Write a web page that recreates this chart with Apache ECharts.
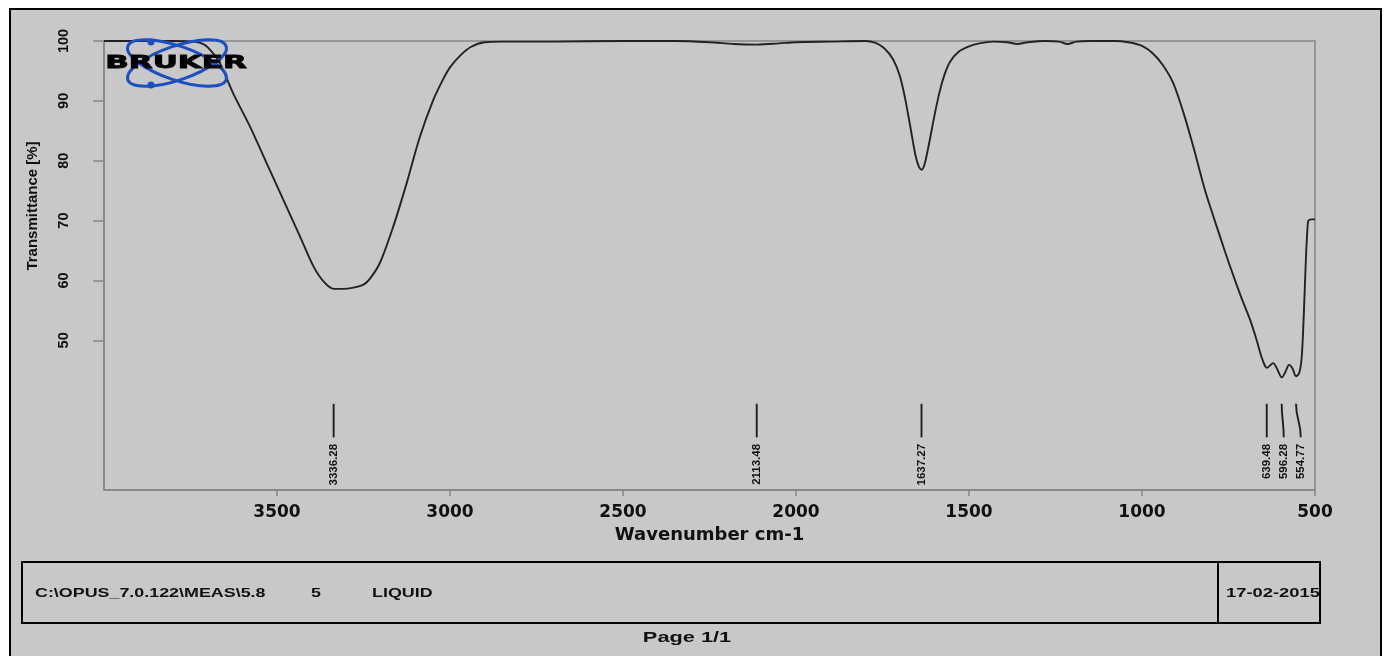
<!DOCTYPE html>
<html>
<head>
<meta charset="utf-8">
<script src="https://cdn.jsdelivr.net/npm/echarts@6/dist/echarts.min.js"></script>
<style>
html,body{margin:0;padding:0;background:#ffffff;width:1390px;height:656px;overflow:hidden}
#frame{position:absolute;left:9px;top:8px;width:1373px;height:670px;background:#c8c8c8;border:2px solid #000;box-sizing:border-box}
#chart{position:absolute;left:0;top:0;width:1390px;height:656px}
</style>
</head>
<body>
<div id="frame"></div>
<div id="chart"></div>
<script>
// ---- data ----
const wavenumbers = [4000,3900,3800,3740,3710,3690,3665,3627,3578,3530,3482,3434,3395,3365,3336,3310,3279,3250,3230,3202,3164,3125,3087,3048,3020,3000,2970,2940,2900,2850,2700,2500,2350,2250,2180,2113,2050,2000,1900,1800,1770,1745,1720,1700,1685,1670,1655,1645,1637,1628,1615,1600,1585,1570,1555,1530,1500,1470,1430,1390,1360,1330,1280,1240,1215,1190,1150,1080,1040,1000,970,940,910,880,850,820,800,784,760,736,712,688,670,655,645,639,630,621,610,596,585,575,565,555,546,539,534,530,526,522,519,510,500];
const transmittance = [100.0,100.0,100.0,99.9,99.4,98.3,96.3,91.3,85.7,79.6,73.5,67.4,62.4,59.8,58.6,58.6,58.8,59.3,60.4,63.0,69.0,76.3,84.0,90.2,93.6,95.6,97.6,99.0,99.8,99.9,99.9,100.0,100.0,99.8,99.5,99.4,99.6,99.8,99.9,100.0,99.7,98.8,97.0,94.2,90.5,85.8,81.0,79.0,78.5,79.5,83.0,87.5,91.5,94.5,96.5,98.2,99.1,99.6,99.9,99.8,99.5,99.8,100.0,99.9,99.5,99.9,100.0,100.0,99.8,99.2,98.0,96.0,93.0,88.0,82.0,75.5,71.8,69.0,64.8,60.8,57.0,53.5,50.3,47.3,45.8,45.4,45.8,46.2,45.3,43.8,44.8,45.9,45.3,44.0,44.5,46.8,52.0,58.0,64.0,68.5,70.0,70.2,70.2];
const peakPositions = [3336.28, 2113.48, 1637.27, 639.48, 596.28, 554.77];
const xTickValues = [3500, 3000, 2500, 2000, 1500, 1000, 500];
const yTickValues = [50, 60, 70, 80, 90, 100];
const xAxisTitle = 'Wavenumber cm-1';
const yAxisTitle = 'Transmittance [%]';
const infoPath = 'C:\\OPUS_7.0.122\\MEAS\\5.8';
const infoNumber = '5';
const infoState = 'LIQUID';
const infoDate = '17-02-2015';
const pageText = 'Page 1/1';
const logoText = 'BRUKER';

// annotation levels (in transmittance units)
const markTopT = 39.4;
const markBottomT = 33.8;
const markLabelT = 32.7;

const chart = echarts.init(document.getElementById('chart'));

function renderPeak(params, api) {
  const i = params.dataIndex;
  const xs = peakPositions.map(p => api.coord([p, markTopT])[0]);
  const lx = xs.slice();
  for (let k = 1; k < lx.length; k++) {
    if (lx[k] < lx[k - 1] + 17) lx[k] = lx[k - 1] + 17;
  }
  const yTop = api.coord([peakPositions[i], markTopT])[1];
  const yBot = api.coord([peakPositions[i], markBottomT])[1];
  const yLab = api.coord([peakPositions[i], markLabelT])[1];
  const yMid = (yTop + yBot) / 2;
  return {
    type: 'group',
    children: [
      {
        type: 'bezierCurve',
        shape: { x1: xs[i], y1: yTop, cpx1: xs[i], cpy1: yMid, cpx2: lx[i], cpy2: yMid, x2: lx[i], y2: yBot },
        style: { stroke: '#1e1e1e', lineWidth: 1.9, fill: null }
      },
      {
        type: 'text',
        x: lx[i], y: yLab, rotation: Math.PI / 2,
        style: {
          text: peakPositions[i].toFixed(2),
          textAlign: 'right', textVerticalAlign: 'middle',
          font: 'bold 11.5px "Liberation Sans", Arial, sans-serif',
          fill: '#111'
        }
      }
    ]
  };
}

const hFont = 'bold 12.5px "Liberation Sans", Arial, sans-serif';

const option = {
  backgroundColor: 'transparent',
  animation: false,
  grid: { left: 104, right: 75, top: 41, bottom: 166, show: true, borderColor: '#858585', borderWidth: 1.5, backgroundColor: 'transparent' },
  xAxis: {
    type: 'value', min: 500, max: 4000, inverse: true,
    name: xAxisTitle, nameLocation: 'middle', nameGap: 35,
    nameTextStyle: { fontFamily: '"DejaVu Sans", sans-serif', fontWeight: 'bold', fontSize: 18, color: '#111' },
    axisLine: { show: true, lineStyle: { color: '#858585', width: 1.5 } },
    axisTick: { show: true, length: 6, customValues: xTickValues, lineStyle: { color: '#858585', width: 1.5 } },
    axisLabel: { customValues: xTickValues, formatter: v => String(v), margin: 14, fontFamily: '"DejaVu Sans", sans-serif', fontWeight: 'bold', fontSize: 17, color: '#111' },
    splitLine: { show: false }
  },
  yAxis: {
    type: 'value', min: 25, max: 100,
    axisLine: { show: true, lineStyle: { color: '#858585', width: 1.5 } },
    axisTick: { show: true, length: 11, customValues: yTickValues, lineStyle: { color: '#858585', width: 1.5 } },
    axisLabel: { customValues: yTickValues, formatter: v => String(v), rotate: 90, margin: 33, fontFamily: '"Liberation Sans", Arial, sans-serif', fontWeight: 'bold', fontSize: 14.5, color: '#111' },
    splitLine: { show: false }
  },
  series: [
    {
      type: 'line',
      data: wavenumbers.map((w, i) => [w, transmittance[i]]),
      showSymbol: false, symbol: 'none',
      smooth: 0.3,
      lineStyle: { color: '#222', width: 1.9 },
      silent: true, z: 3
    },
    {
      type: 'custom',
      data: peakPositions.map(p => [p, markTopT]),
      renderItem: renderPeak,
      silent: true, z: 4
    }
  ],
  graphic: {
    elements: [
      // Bruker logo
      { type: 'ellipse', x: 177, y: 63, rotation: 0.33, shape: { cx: 0, cy: 0, rx: 52, ry: 17 }, style: { fill: null, stroke: '#1c4fc2', lineWidth: 3 }, z: 10 },
      { type: 'ellipse', x: 177, y: 63, rotation: -0.33, shape: { cx: 0, cy: 0, rx: 52, ry: 17 }, style: { fill: null, stroke: '#1c4fc2', lineWidth: 3 }, z: 10 },
      { type: 'circle', shape: { cx: 151, cy: 42, r: 3.5 }, style: { fill: '#1c4fc2' }, z: 10 },
      { type: 'circle', shape: { cx: 151, cy: 85, r: 3.5 }, style: { fill: '#1c4fc2' }, z: 10 },
      { type: 'text', x: 176, y: 64, scaleX: 1.82, style: { text: logoText, textAlign: 'center', textVerticalAlign: 'middle', font: '900 17px "DejaVu Sans", sans-serif', fill: '#000', stroke: '#000', lineWidth: 0.8 }, z: 11 },
      // y axis title
      { type: 'text', x: 33, y: 206, rotation: Math.PI / 2, style: { text: yAxisTitle, textAlign: 'center', textVerticalAlign: 'middle', font: 'bold 15px "Liberation Sans", Arial, sans-serif', fill: '#111' } },
      // info box
      { type: 'text', x: 35, y: 594, scaleX: 1.43, style: { text: infoPath, textAlign: 'left', textVerticalAlign: 'middle', font: hFont, fill: '#111' } },
      { type: 'text', x: 316, y: 594, scaleX: 1.43, style: { text: infoNumber, textAlign: 'center', textVerticalAlign: 'middle', font: hFont, fill: '#111' } },
      { type: 'text', x: 372, y: 594, scaleX: 1.43, style: { text: infoState, textAlign: 'left', textVerticalAlign: 'middle', font: hFont, fill: '#111' } },
      { type: 'text', x: 1226, y: 594, scaleX: 1.47, style: { text: infoDate, textAlign: 'left', textVerticalAlign: 'middle', font: hFont, fill: '#111' } },
      { type: 'rect', shape: { x: 1320, y: 560, width: 40, height: 66 }, style: { fill: '#c8c8c8' } },
      { type: 'rect', shape: { x: 22, y: 562, width: 1298, height: 61 }, style: { fill: null, stroke: '#000', lineWidth: 2 } },
      { type: 'line', shape: { x1: 1218, y1: 562, x2: 1218, y2: 623 }, style: { stroke: '#000', lineWidth: 2 } },
      { type: 'text', x: 687, y: 638, scaleX: 1.45, style: { text: pageText, textAlign: 'center', textVerticalAlign: 'middle', font: 'bold 15px "Liberation Sans", Arial, sans-serif', fill: '#111' } }
    ]
  }
};
chart.setOption(option);
</script>
</body>
</html>
